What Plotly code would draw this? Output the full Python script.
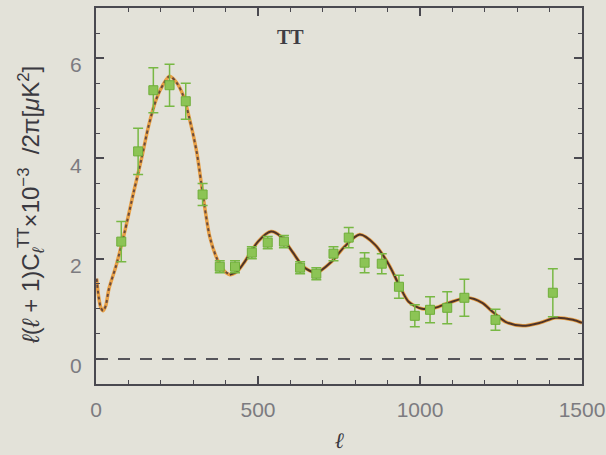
import plotly.graph_objects as go

# Band-power measurements: multipole, D_l (x10^-3 uK^2) and 1-sigma errors
ell_data = [78, 130, 177, 227, 277, 329, 382, 429, 481, 530, 580, 630,
            680, 733, 780, 829, 882, 935, 984, 1031, 1084, 1137, 1233, 1410]
dl_data = [2.34, 4.14, 5.36, 5.46, 5.14, 3.28, 1.84, 1.84, 2.12, 2.32, 2.34, 1.82,
           1.70, 2.10, 2.42, 1.92, 1.90, 1.44, 0.86, 0.98, 1.02, 1.22, 0.78, 1.32]
dl_err = [0.40, 0.46, 0.45, 0.42, 0.36, 0.22, 0.12, 0.12, 0.12, 0.12, 0.12, 0.12,
          0.12, 0.14, 0.20, 0.20, 0.20, 0.23, 0.22, 0.26, 0.32, 0.37, 0.21, 0.48]

# Best-fit model spectrum
ell_model = [2, 8, 15, 22, 30, 40, 62, 88, 116, 140, 162, 186, 208, 227, 248, 270,
             289, 311, 332, 351, 372, 392, 413, 435, 457, 500, 540, 571, 608, 640,
             680, 727, 767, 814, 861, 904, 935, 965, 1006, 1047, 1090, 1146, 1192,
             1224, 1264, 1317, 1370, 1419, 1472, 1500]
dl_model = [1.60, 1.25, 1.02, 0.96, 1.06, 1.40, 1.86, 2.52, 3.32, 3.98, 4.64, 5.18,
            5.48, 5.64, 5.52, 5.24, 4.78, 4.12, 3.18, 2.44, 2.02, 1.78, 1.68, 1.74,
            1.92, 2.34, 2.54, 2.44, 2.12, 1.84, 1.72, 1.94, 2.24, 2.48, 2.28, 1.88,
            1.48, 1.14, 1.00, 1.02, 1.12, 1.22, 1.12, 0.94, 0.74, 0.66, 0.72, 0.82,
            0.78, 0.72]

x_ticks = [0, 500, 1000, 1500]
y_ticks = [0, 2, 4, 6]
split_ell = 413  # dotted rendering below this multipole

bg = "#e3e2d9"
frame = "#4a4950"

fig = go.Figure()

# zero reference
fig.add_trace(go.Scatter(x=[0, 1500], y=[0, 0], mode="lines",
                         line=dict(color="#55545a", width=2, dash="12px,10px"),
                         hoverinfo="skip", showlegend=False))

# orange underlay of the model curve
fig.add_trace(go.Scatter(x=ell_model, y=dl_model, mode="lines",
                         line=dict(color="#e8a046", width=3.5, shape="spline", smoothing=0.8),
                         showlegend=False))

lo_x = [l for l in ell_model if l <= split_ell]
lo_y = [d for l, d in zip(ell_model, dl_model) if l <= split_ell]
hi_x = [l for l in ell_model if l >= split_ell]
hi_y = [d for l, d in zip(ell_model, dl_model) if l >= split_ell]

fig.add_trace(go.Scatter(x=lo_x, y=lo_y, mode="lines",
                         line=dict(color="#6a4a3c", width=2, dash="3px,3px",
                                   shape="spline", smoothing=0.8),
                         showlegend=False))
fig.add_trace(go.Scatter(x=hi_x, y=hi_y, mode="lines",
                         line=dict(color="#4e3328", width=2, shape="spline", smoothing=0.8),
                         showlegend=False))

# data points with error bars
fig.add_trace(go.Scatter(
    x=ell_data, y=dl_data, mode="markers",
    marker=dict(symbol="square", size=9, color="#8cc455",
                line=dict(color="#6fae3a", width=1)),
    error_y=dict(type="data", array=dl_err, visible=True,
                 color="#78b844", thickness=1.5, width=5),
    showlegend=False))

axis_common = dict(
    showgrid=False, zeroline=False, showline=True, mirror="ticks",
    linecolor=frame, linewidth=2, ticks="inside", ticklen=8, tickwidth=1.5,
    tickcolor=frame, automargin=False,
    tickfont=dict(family="Liberation Sans, Arial, sans-serif", size=21, color="#7c7b80"),
)

fig.update_xaxes(range=[0, 1500], tickvals=x_ticks, ticktext=[str(v) for v in x_ticks],
                 ticklabelstandoff=6,
                 minor=dict(ticks="inside", ticklen=4, tickwidth=1.2, dtick=100,
                            tickcolor=frame, showgrid=False),
                 **axis_common)
fig.update_yaxes(range=[-0.5, 7], tickvals=y_ticks, ticktext=[str(v) for v in y_ticks],
                 ticklabelstandoff=8, ticklabelshift=7,
                 minor=dict(ticks="inside", ticklen=4, tickwidth=1.2, dtick=0.5,
                            tickcolor=frame, showgrid=False),
                 **axis_common)

fig.add_annotation(x=0.4, y=0.923, xref="paper", yref="paper", text="<b>TT</b>",
                   xanchor="center", yanchor="middle", showarrow=False,
                   font=dict(family="Liberation Serif, Times New Roman, serif",
                             size=20, color="#3e3d44"))

fig.add_annotation(x=-0.134, y=0.476, xref="paper", yref="paper", textangle=-90,
                   xanchor="center", yanchor="middle",
                   text="<i>ℓ</i>(<i>ℓ</i> + 1)C<sub><i>ℓ</i></sub><sup>TT</sup>×10<sup>−3</sup>  /2π[<i>μ</i>K<sup>2</sup>]",
                   showarrow=False,
                   font=dict(family="Liberation Sans, Arial, sans-serif", size=24,
                             color="#3a3940"))

fig.add_annotation(x=0.5, y=-0.15, xref="paper", yref="paper",
                   xanchor="center", yanchor="middle",
                   text="<b><i>ℓ</i></b>", showarrow=False,
                   font=dict(family="Liberation Serif, serif", size=22, color="#3a3940"))

fig.update_layout(
    width=606, height=455,
    margin=dict(l=96, r=24, t=8, b=71),
    paper_bgcolor=bg, plot_bgcolor=bg,
    showlegend=False,
)

fig.write_html("out.html")
